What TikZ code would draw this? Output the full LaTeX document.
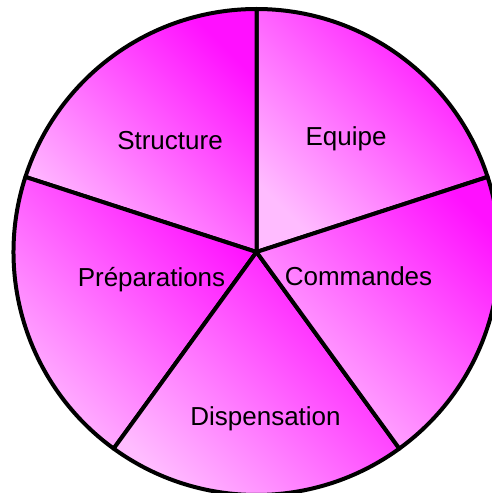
\documentclass[tikz,border=0pt]{standalone}
\usepackage{fontspec}
\setmainfont{Liberation Sans}
\usetikzlibrary{positioning, calc}
\definecolor{pale}{HTML}{FFBCFF}
\definecolor{deep}{HTML}{FF10FF}

\begin{document}
\begin{tikzpicture}[x=0.5pt, y=0.5pt,
      wedge/.style={draw=black, line width=2, line join=round,
        shading=axis, top color=deep, bottom color=pale, shading angle=-45},
      lbl/.style={anchor=base, inner sep=0pt, font=\fontsize{13}{15}\selectfont}]
    \useasboundingbox (0,0) rectangle (492,493);
    \clip (0,0) rectangle (492,493);
    \coordinate (c) at (256.5,241);
    % five equal slices
    \foreach \a in {18,90,162,234,306}
      \path[wedge] (c) -- ($(c)+(\a:243)$)
        arc[start angle=\a, end angle=\a+72, radius=243] -- cycle;
    \node[lbl] (structure) at (170,343) {Structure};
    \node[lbl] (equipe) at (346,347) {Equipe};
    \node[lbl] (prep) at (151.5,206) {Préparations};
    \node[lbl] (commandes) at (358.5,207) {Commandes};
    \node[lbl] (dispensation) at (265.5,68) {Dispensation};
  \end{tikzpicture}
\end{document}
